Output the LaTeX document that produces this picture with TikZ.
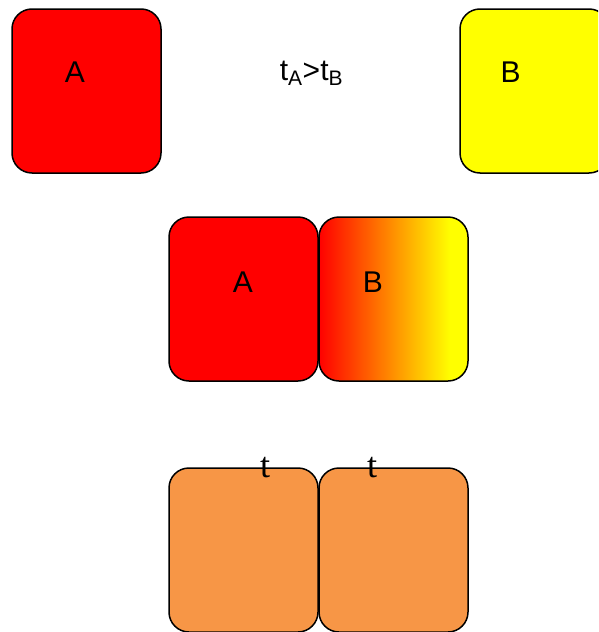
\documentclass[tikz,border=0pt]{standalone}
\usepackage{fontspec}
\setmainfont{Liberation Serif}
\setsansfont{Liberation Sans}
\definecolor{pured}{RGB}{255,0,0}
\definecolor{pureyellow}{RGB}{255,255,0}
\definecolor{boxorange}{HTML}{F79646}
\pgfdeclarehorizontalshading{redyel}{100bp}{color(0bp)=(pured); color(25bp)=(pured); color(69bp)=(pureyellow); color(100bp)=(pureyellow)}
\tikzset{
  block/.style={draw=black, line width=1.5pt, rounded corners=20pt, minimum width=149pt, minimum height=164pt, inner sep=0pt},
  lbl/.style={font=\sffamily\fontsize{30}{30}\selectfont, anchor=base, inner sep=0pt},
  tlbl/.style={font=\rmfamily\fontsize{36}{36}\selectfont, anchor=base, inner sep=0pt}
}
\begin{document}
\begin{tikzpicture}[x=1pt,y=-1pt]
\useasboundingbox (0,0) rectangle (598,632);
\clip (0,0) rectangle (598,632);
% top row
\node[block, fill=pured] (topA) at (86.5,91) {};
\node[block, fill=pureyellow] (topB) at (534.5,91) {};
\node[lbl] (topAl) at (75,82) {A};
\node[lbl] (topBl) at (510.5,82) {B};
\node[lbl] (rel) at (311.5,80) {t\textsubscript{A}>t\textsubscript{B}};
% middle row
\node[block, fill=pured] (midA) at (243.5,299) {};
\node[block, shading=redyel] (midB) at (393.5,299) {};
\node[lbl] (midAl) at (243,292) {A};
\node[lbl] (midBl) at (373,292) {B};
% bottom row
\node[block, fill=boxorange] (botA) at (243.5,550) {};
\node[block, fill=boxorange] (botB) at (393.5,550) {};
\node[tlbl] (botAt) at (265,477) {t};
\node[tlbl] (botBt) at (372,477) {t};
\end{tikzpicture}
\end{document}
